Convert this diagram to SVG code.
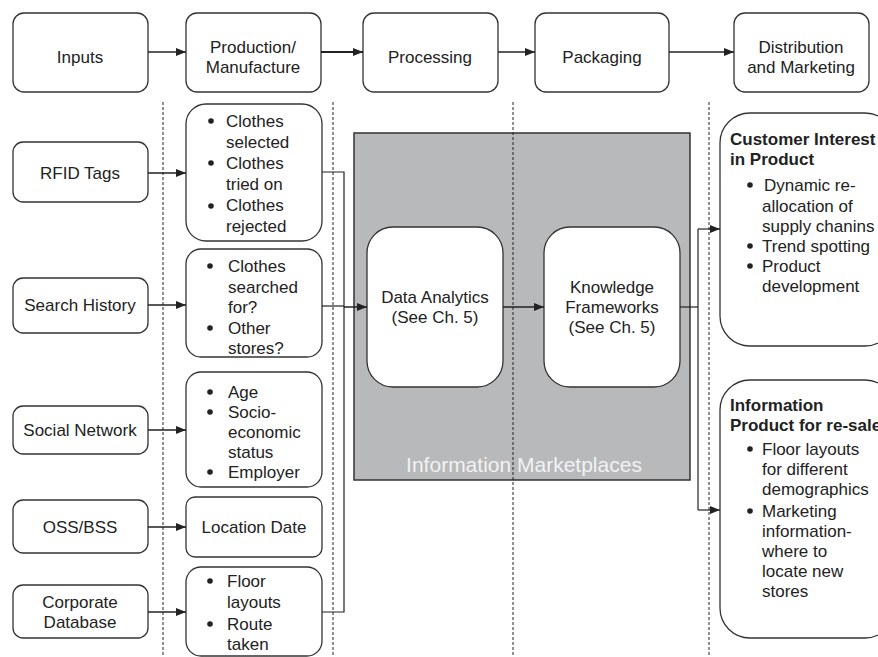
<svg xmlns="http://www.w3.org/2000/svg" width="878" height="657" viewBox="0 0 878 657">
  <defs>
    <marker id="arrow" viewBox="0 0 10 10" refX="10" refY="5" markerWidth="10" markerHeight="10" markerUnits="userSpaceOnUse" orient="auto">
      <path d="M0,1 L10,5 L0,9 Z" fill="#222"/>
    </marker>
  </defs>
  <style>
    .box { fill: #fff; stroke: #333; stroke-width: 1.3; }
    .panel { fill: #b8b9bb; stroke: #333; stroke-width: 1.5; }
    .lbl { font-family: "Liberation Sans", Arial, sans-serif; font-size: 17px; fill: #222; }
    .c { text-anchor: middle; }
    .b { font-weight: bold; }
    .wire { fill: none; stroke: #222; stroke-width: 1.2; }
    .flow { fill: none; stroke: #222; stroke-width: 1.5; }
    .lane { fill: none; stroke: #222; stroke-width: 1; stroke-dasharray: 3 2; }
    .dot { fill: #222; }
  </style>

  <rect width="878" height="657" fill="#fff"/>

  <!-- Information marketplaces panel -->
  <g id="marketplaces">
    <rect class="panel" x="354" y="133" width="336" height="347"/>
    <text class="lbl c" x="524" y="472" style="font-size:21px; fill:#f2f2f2">Information Marketplaces</text>
  </g>

  <!-- stage lanes -->
  <g id="lanes">
    <line class="lane" x1="163" y1="102" x2="163" y2="657"/>
    <line class="lane" x1="333" y1="102" x2="333" y2="657"/>
    <line class="lane" x1="513" y1="102" x2="513" y2="657"/>
    <line class="lane" x1="709" y1="102" x2="709" y2="657"/>
  </g>

  <!-- stage header -->
  <g id="inputs">
    <rect class="box" x="13" y="13" width="135" height="79" rx="11"/>
    <text class="lbl c" x="80" y="63">Inputs</text>
  </g>
  <g id="production">
    <rect class="box" x="186" y="13" width="135" height="79" rx="11"/>
    <text class="lbl c" x="253" y="53">Production/</text>
    <text class="lbl c" x="253" y="73">Manufacture</text>
  </g>
  <g id="processing">
    <rect class="box" x="363" y="13" width="135" height="79" rx="11"/>
    <text class="lbl c" x="430" y="63">Processing</text>
  </g>
  <g id="packaging">
    <rect class="box" x="535" y="13" width="134" height="79" rx="11"/>
    <text class="lbl c" x="602" y="63">Packaging</text>
  </g>
  <g id="distribution">
    <rect class="box" x="734" y="13" width="135" height="79" rx="11"/>
    <text class="lbl c" x="801" y="53">Distribution</text>
    <text class="lbl c" x="801" y="73">and Marketing</text>
  </g>

  <!-- sources -->
  <g id="rfid">
    <rect class="box" x="13" y="142" width="135" height="60" rx="10"/>
    <text class="lbl c" x="80" y="179">RFID Tags</text>
  </g>
  <g id="search">
    <rect class="box" x="13" y="278" width="135" height="55" rx="10"/>
    <text class="lbl c" x="80" y="311">Search History</text>
  </g>
  <g id="social">
    <rect class="box" x="13" y="406" width="135" height="48" rx="10"/>
    <text class="lbl c" x="80" y="436">Social Network</text>
  </g>
  <g id="oss">
    <rect class="box" x="13" y="500" width="135" height="53" rx="10"/>
    <text class="lbl c" x="80" y="533">OSS/BSS</text>
  </g>
  <g id="corporate">
    <rect class="box" x="13" y="585" width="135" height="53" rx="10"/>
    <text class="lbl c" x="80" y="608">Corporate</text>
    <text class="lbl c" x="80" y="628">Database</text>
  </g>

  <!-- collected data -->
  <g id="rfid-data">
    <rect class="box" x="186" y="104" width="136" height="137" rx="20"/>
    <circle class="dot" cx="211" cy="121" r="2.8"/>
    <circle class="dot" cx="211" cy="163" r="2.8"/>
    <circle class="dot" cx="211" cy="206" r="2.8"/>
    <text class="lbl" x="226" y="127">Clothes</text>
    <text class="lbl" x="226" y="148">selected</text>
    <text class="lbl" x="226" y="169">Clothes</text>
    <text class="lbl" x="226" y="190">tried on</text>
    <text class="lbl" x="226" y="211">Clothes</text>
    <text class="lbl" x="226" y="232">rejected</text>
  </g>
  <g id="search-data">
    <rect class="box" x="186" y="249" width="136" height="108" rx="15"/>
    <circle class="dot" cx="210" cy="266" r="2.8"/>
    <circle class="dot" cx="210" cy="328" r="2.8"/>
    <text class="lbl" x="228" y="272">Clothes</text>
    <text class="lbl" x="228" y="293">searched</text>
    <text class="lbl" x="228" y="313">for?</text>
    <text class="lbl" x="228" y="334">Other</text>
    <text class="lbl" x="228" y="354">stores?</text>
  </g>
  <g id="social-data">
    <rect class="box" x="186" y="372" width="136" height="115" rx="15"/>
    <circle class="dot" cx="210" cy="392" r="2.8"/>
    <circle class="dot" cx="210" cy="412" r="2.8"/>
    <circle class="dot" cx="210" cy="472" r="2.8"/>
    <text class="lbl" x="228" y="398">Age</text>
    <text class="lbl" x="228" y="418">Socio-</text>
    <text class="lbl" x="228" y="438">economic</text>
    <text class="lbl" x="228" y="458">status</text>
    <text class="lbl" x="228" y="478">Employer</text>
  </g>
  <g id="location-data">
    <rect class="box" x="186" y="497" width="136" height="60" rx="9"/>
    <text class="lbl c" x="254" y="533">Location Date</text>
  </g>
  <g id="store-data">
    <rect class="box" x="186" y="567" width="136" height="89" rx="15"/>
    <circle class="dot" cx="210" cy="581" r="2.8"/>
    <circle class="dot" cx="210" cy="624" r="2.8"/>
    <text class="lbl" x="227" y="587">Floor</text>
    <text class="lbl" x="227" y="608">layouts</text>
    <text class="lbl" x="227" y="630">Route</text>
    <text class="lbl" x="227" y="650">taken</text>
  </g>

  <!-- analysis -->
  <g id="analytics">
    <rect class="box" x="367" y="227" width="136" height="160" rx="26"/>
    <text class="lbl c" x="435" y="303">Data Analytics</text>
    <text class="lbl c" x="435" y="323">(See Ch. 5)</text>
  </g>
  <g id="frameworks">
    <rect class="box" x="544" y="227" width="136" height="160" rx="26"/>
    <text class="lbl c" x="612" y="293">Knowledge</text>
    <text class="lbl c" x="612" y="313">Frameworks</text>
    <text class="lbl c" x="612" y="333">(See Ch. 5)</text>
  </g>

  <!-- outcomes -->
  <g id="customer-interest">
    <rect class="box" x="720" y="113" width="175" height="233" rx="30"/>
    <text class="lbl b" x="730" y="145">Customer Interest</text>
    <text class="lbl b" x="730" y="165">in Product</text>
    <circle class="dot" cx="750" cy="185" r="2.8"/>
    <circle class="dot" cx="750" cy="246" r="2.8"/>
    <circle class="dot" cx="750" cy="266" r="2.8"/>
    <text class="lbl" x="764" y="191">Dynamic re-</text>
    <text class="lbl" x="762" y="212">allocation of</text>
    <text class="lbl" x="762" y="232">supply chanins</text>
    <text class="lbl" x="762" y="252">Trend spotting</text>
    <text class="lbl" x="762" y="272">Product</text>
    <text class="lbl" x="762" y="292">development</text>
  </g>
  <g id="information-product">
    <rect class="box" x="720" y="380" width="175" height="258" rx="30"/>
    <text class="lbl b" x="730" y="411">Information</text>
    <text class="lbl b" x="730" y="431">Product for re-sale</text>
    <circle class="dot" cx="750" cy="449" r="2.8"/>
    <circle class="dot" cx="750" cy="511" r="2.8"/>
    <text class="lbl" x="762" y="455">Floor layouts</text>
    <text class="lbl" x="762" y="475">for different</text>
    <text class="lbl" x="762" y="495">demographics</text>
    <text class="lbl" x="762" y="517">Marketing</text>
    <text class="lbl" x="762" y="537">information-</text>
    <text class="lbl" x="762" y="557">where to</text>
    <text class="lbl" x="762" y="577">locate new</text>
    <text class="lbl" x="762" y="597">stores</text>
  </g>

  <!-- connectors -->
  <g id="connectors">
    <line class="flow" x1="148" y1="52" x2="186" y2="52" marker-end="url(#arrow)"/>
    <line class="flow" x1="321" y1="52" x2="363" y2="52" marker-end="url(#arrow)" style="stroke-width:2"/>
    <line class="flow" x1="498" y1="52" x2="535" y2="52" marker-end="url(#arrow)"/>
    <line class="flow" x1="669" y1="52" x2="734" y2="52" marker-end="url(#arrow)"/>

    <line class="flow" x1="148" y1="173" x2="186" y2="173" marker-end="url(#arrow)"/>
    <line class="flow" x1="148" y1="305" x2="186" y2="305" marker-end="url(#arrow)"/>
    <line class="flow" x1="148" y1="430" x2="186" y2="430" marker-end="url(#arrow)"/>
    <line class="flow" x1="148" y1="527" x2="186" y2="527" marker-end="url(#arrow)"/>
    <line class="flow" x1="148" y1="612" x2="186" y2="612" marker-end="url(#arrow)"/>

    <polyline class="wire" points="322,172 344,172 344,612 322,612"/>
    <line class="wire" x1="322" y1="306" x2="344" y2="306"/>
    <line class="flow" x1="344" y1="307" x2="367" y2="307" marker-end="url(#arrow)"/>

    <line class="flow" x1="503" y1="307" x2="544" y2="307" marker-end="url(#arrow)"/>

    <polyline class="wire" points="680,307 698,307"/>
    <line class="wire" x1="698" y1="229" x2="698" y2="510"/>
    <line class="wire" x1="698" y1="229" x2="720" y2="229" marker-end="url(#arrow)"/>
    <line class="wire" x1="698" y1="510" x2="720" y2="510" marker-end="url(#arrow)"/>
  </g>
</svg>
